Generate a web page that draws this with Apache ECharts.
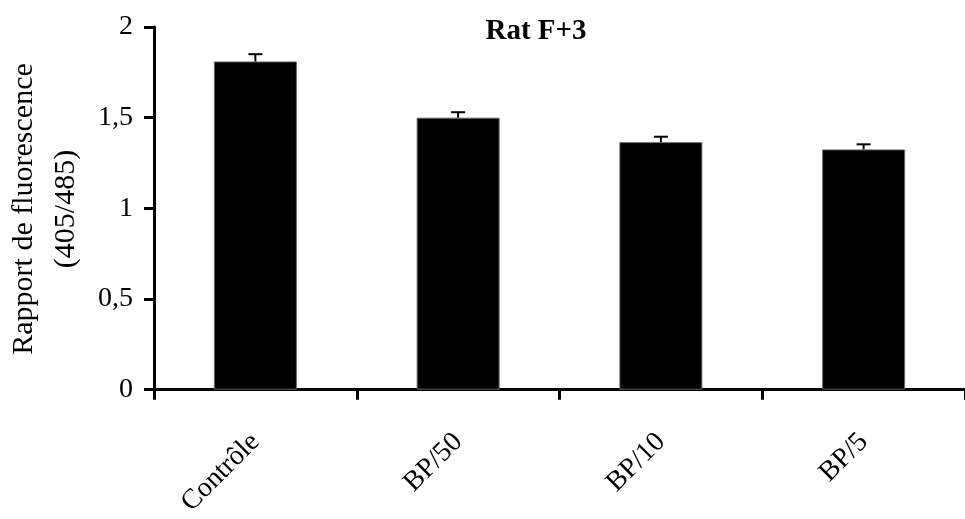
<!DOCTYPE html>
<html>
<head>
<meta charset="utf-8">
<script src="https://cdn.jsdelivr.net/npm/echarts@6/dist/echarts.min.js"></script>
<style>
  html, body { margin: 0; padding: 0; background: #fff; }
  #chart { width: 965px; height: 519px; }
</style>
</head>
<body>
<div id="chart"></div>
<script>
var FONT = "'Liberation Serif', 'Times New Roman', serif";

var categories = ["Contrôle", "BP/50", "BP/10", "BP/5"];
var ratios = [1.81, 1.50, 1.365, 1.325];
var errors = [0.04, 0.03, 0.03, 0.028];
var yTicks = [0, 0.5, 1, 1.5, 2];

var chart = echarts.init(document.getElementById("chart"));

// error bars drawn over the top of each bar
var renderErr = function(params, api){
	var i = api.value(0);
	var top = api.coord([i, api.value(1) + api.value(2)]);
	var base = api.coord([i, api.value(1)]);
	var half = 7;
	var style = {stroke: "#000", lineWidth: 2};
	return {
		type: "group",
		children: [
			{type: "line", shape: {x1: base[0], y1: base[1], x2: top[0], y2: top[1]}, style: style},
			{type: "line", shape: {x1: top[0] - half, y1: top[1], x2: top[0] + half, y2: top[1]}, style: style}
		]
	};
};

var errData = [];
for (var k = 0; k < categories.length; k++){
	errData.push([k, ratios[k], errors[k]]);
}

var option = {
	animation: false,
	backgroundColor: "#fff",
	textStyle: {fontFamily: FONT, color: "#000"},
	title: {
		text: "Rat F+3",
		left: 531,
		top: 12,
		textAlign: "center",
		textStyle: {fontFamily: FONT, fontSize: 29, fontWeight: "bold", color: "#000"}
	},
	graphic: [
		{type: "text", x: 24, y: 209, rotation: Math.PI / 2,
		 style: {text: "Rapport de fluorescence", fontFamily: FONT, fontSize: 30, fill: "#000", align: "center", verticalAlign: "middle"}},
		{type: "text", x: 66, y: 209, rotation: Math.PI / 2,
		 style: {text: "(405/485)", fontFamily: FONT, fontSize: 30, fill: "#000", align: "center", verticalAlign: "middle"}}
	],
	grid: {left: 154, top: 27, width: 823, height: 375},
	xAxis: {
		type: "category",
		data: categories,
		boundaryGap: true,
		axisLine: {lineStyle: {color: "#000", width: 3}},
		axisTick: {show: true, length: 10, lineStyle: {color: "#000", width: 3}},
		axisLabel: {rotate: 45, margin: 48, interval: 0, fontFamily: FONT, fontSize: 28, color: "#000"},
		splitLine: {show: false}
	},
	yAxis: {
		type: "value",
		min: 0,
		max: 2,
		interval: 0.5,
		axisLine: {show: true, lineStyle: {color: "#000", width: 3}},
		axisTick: {show: true, length: 10, lineStyle: {color: "#000", width: 3}},
		axisLabel: {
			margin: 21,
			fontFamily: FONT,
			fontSize: 28,
			color: "#000",
			formatter: function(v){
				if (yTicks.indexOf(v) < 0) return "";
				return String(v).replace(".", ",");
			}
		},
		splitLine: {show: false}
	},
	series: [
		{
			type: "bar",
			data: ratios,
			barWidth: 83,
			itemStyle: {color: "#000", borderColor: "#666", borderWidth: 1}
		},
		{
			type: "custom",
			renderItem: renderErr,
			data: errData,
			encode: {x: 0, y: 1},
			z: 3
		}
	]
};

chart.setOption(option);
</script>
</body>
</html>
